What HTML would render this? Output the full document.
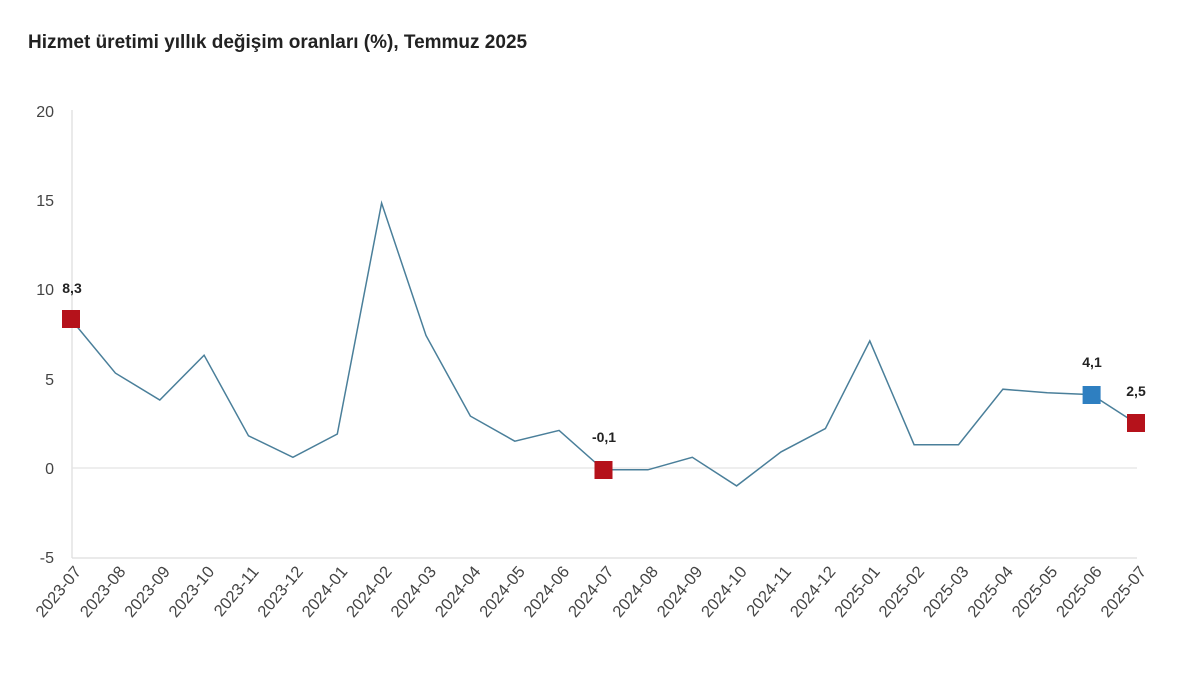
<!DOCTYPE html>
<html><head><meta charset="utf-8"><style>
body{margin:0;background:#fff;width:1200px;height:692px;overflow:hidden;font-family:"Liberation Sans",sans-serif}
</style></head><body>
<svg width="1200" height="692" xmlns="http://www.w3.org/2000/svg" font-family="Liberation Sans, sans-serif">
<rect width="1200" height="692" fill="#fff"/>
<text x="28" y="48" font-size="19" font-weight="bold" fill="#222">Hizmet üretimi yıllık değişim oranları (%), Temmuz 2025</text>
<g font-size="16" fill="#444" text-anchor="end">
<text x="54" y="117">20</text><text x="54" y="206">15</text><text x="54" y="295">10</text>
<text x="54" y="385">5</text><text x="54" y="474">0</text><text x="54" y="563">-5</text>
</g>
<line x1="72" y1="110" x2="72" y2="558" stroke="#ddd" stroke-width="1.2"/>
<line x1="72" y1="558" x2="1137" y2="558" stroke="#ddd" stroke-width="1.2"/>
<line x1="72" y1="468" x2="1137" y2="468" stroke="#e4e4e4" stroke-width="1.2"/>
<polyline fill="none" stroke="#4a7f9a" stroke-width="1.5" points="71.0,319.4 115.4,373.1 159.8,400.0 204.1,355.2 248.5,435.8 292.9,457.3 337.3,434.0 381.6,203.1 426.0,335.5 470.4,416.1 514.8,441.2 559.1,430.4 603.5,469.8 647.9,469.8 692.3,457.3 736.6,485.9 781.0,451.9 825.4,428.6 869.8,340.9 914.1,444.7 958.5,444.7 1002.9,389.2 1047.3,392.8 1091.6,394.6 1136.0,423.2"/>
<rect x="62" y="310" width="18" height="18" fill="#b5121b"/>
<rect x="594.5" y="461" width="18" height="18" fill="#b5121b"/>
<rect x="1082.6" y="386" width="18" height="18" fill="#2e7fc1"/>
<rect x="1127" y="414" width="18" height="18" fill="#b5121b"/>
<g font-size="14" font-weight="bold" fill="#222" text-anchor="middle">
<text x="72" y="293">8,3</text><text x="604" y="442">-0,1</text>
<text x="1092" y="367">4,1</text><text x="1136" y="396">2,5</text>
</g>
<g font-size="16.5" fill="#444" text-anchor="end">
<text transform="translate(82,572) rotate(-50)">2023-07</text>
<text transform="translate(126.4,572) rotate(-50)">2023-08</text>
<text transform="translate(170.8,572) rotate(-50)">2023-09</text>
<text transform="translate(215.1,572) rotate(-50)">2023-10</text>
<text transform="translate(259.5,572) rotate(-50)">2023-11</text>
<text transform="translate(303.9,572) rotate(-50)">2023-12</text>
<text transform="translate(348.3,572) rotate(-50)">2024-01</text>
<text transform="translate(392.6,572) rotate(-50)">2024-02</text>
<text transform="translate(437,572) rotate(-50)">2024-03</text>
<text transform="translate(481.4,572) rotate(-50)">2024-04</text>
<text transform="translate(525.8,572) rotate(-50)">2024-05</text>
<text transform="translate(570.1,572) rotate(-50)">2024-06</text>
<text transform="translate(614.5,572) rotate(-50)">2024-07</text>
<text transform="translate(658.9,572) rotate(-50)">2024-08</text>
<text transform="translate(703.3,572) rotate(-50)">2024-09</text>
<text transform="translate(747.6,572) rotate(-50)">2024-10</text>
<text transform="translate(792,572) rotate(-50)">2024-11</text>
<text transform="translate(836.4,572) rotate(-50)">2024-12</text>
<text transform="translate(880.8,572) rotate(-50)">2025-01</text>
<text transform="translate(925.1,572) rotate(-50)">2025-02</text>
<text transform="translate(969.5,572) rotate(-50)">2025-03</text>
<text transform="translate(1013.9,572) rotate(-50)">2025-04</text>
<text transform="translate(1058.3,572) rotate(-50)">2025-05</text>
<text transform="translate(1102.6,572) rotate(-50)">2025-06</text>
<text transform="translate(1147,572) rotate(-50)">2025-07</text>
</g>
</svg>
</body></html>
